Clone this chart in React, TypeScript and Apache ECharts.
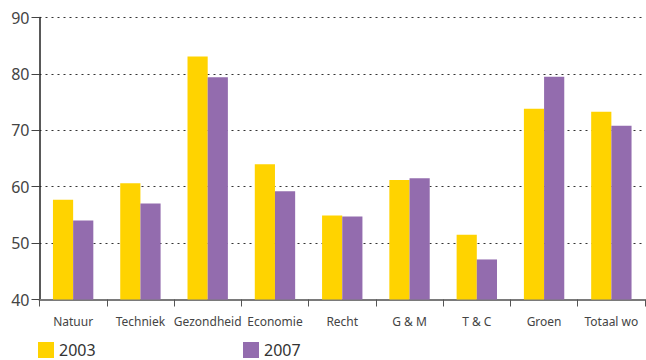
import React, { useEffect, useRef } from "react";
import * as echarts from "echarts";

const categories = ["Natuur", "Techniek", "Gezondheid", "Economie", "Recht", "G & M", "T & C", "Groen", "Totaal wo"];
const values2003 = [57.7, 60.6, 83.1, 64.0, 54.9, 61.2, 51.5, 73.8, 73.3];
const values2007 = [54.0, 57.0, 79.4, 59.2, 54.7, 61.5, 47.1, 79.5, 70.8];
const seriesNames = ["2003", "2007"];
const yMin = 40;
const yMax = 90;
const yInterval = 10;

const YELLOW = "#FFD300";
const PURPLE = "#936CAE";
const FONT = "'Noto Sans', sans-serif";

export default function App() {
  const ref = useRef<HTMLDivElement>(null);
  useEffect(() => {
    if (!ref.current) return;
    const chart = echarts.init(ref.current, null, { renderer: "svg" });
    const legendStyle = {
      itemWidth: 16,
      itemHeight: 16,
      itemGap: 8,
      icon: "rect",
      textStyle: { fontFamily: FONT, fontSize: 16, color: "#333", lineHeight: 16 },
    };
    chart.setOption({
      animation: false,
      backgroundColor: "#fff",
      grid: { left: 39.5, right: 1, top: 17.5, bottom: 60.5, containLabel: false },
      legend: [
        { ...legendStyle, data: [seriesNames[0]], left: 38, top: 342, padding: 0 },
        { ...legendStyle, data: [seriesNames[1]], left: 243, top: 342, padding: 0 },
      ],
      xAxis: {
        type: "category",
        data: categories,
        axisLine: { lineStyle: { color: "#7a7a7a", width: 2 } },
        axisTick: { show: true, length: 7, lineStyle: { color: "#555", width: 1 } },
        axisLabel: { fontFamily: FONT, fontSize: 12, color: "#444", margin: 16, interval: 0 },
        splitLine: { show: false },
      },
      yAxis: {
        type: "value",
        min: yMin,
        max: yMax,
        interval: yInterval,
        axisLine: { show: true, lineStyle: { color: "#222", width: 1.5 } },
        axisTick: { show: true, length: 8, lineStyle: { color: "#444", width: 1 } },
        axisLabel: { fontFamily: FONT, fontSize: 16, color: "#444", margin: 10 },
        splitLine: { show: true, lineStyle: { color: "#333", type: [2, 4], width: 1 } },
      },
      series: [
        {
          name: seriesNames[0],
          type: "bar",
          data: values2003,
          itemStyle: { color: YELLOW },
          barGap: "0%",
          barCategoryGap: "40%",
        },
        {
          name: seriesNames[1],
          type: "bar",
          data: values2007,
          itemStyle: { color: PURPLE },
          barGap: "0%",
          barCategoryGap: "40%",
        },
      ],
    });
    return () => chart.dispose();
  }, []);
  return (
    <div
      ref={ref}
      style={{ position: "fixed", left: 0, top: 0, width: 646, height: 360, background: "#fff" }}
    />
  );
}
